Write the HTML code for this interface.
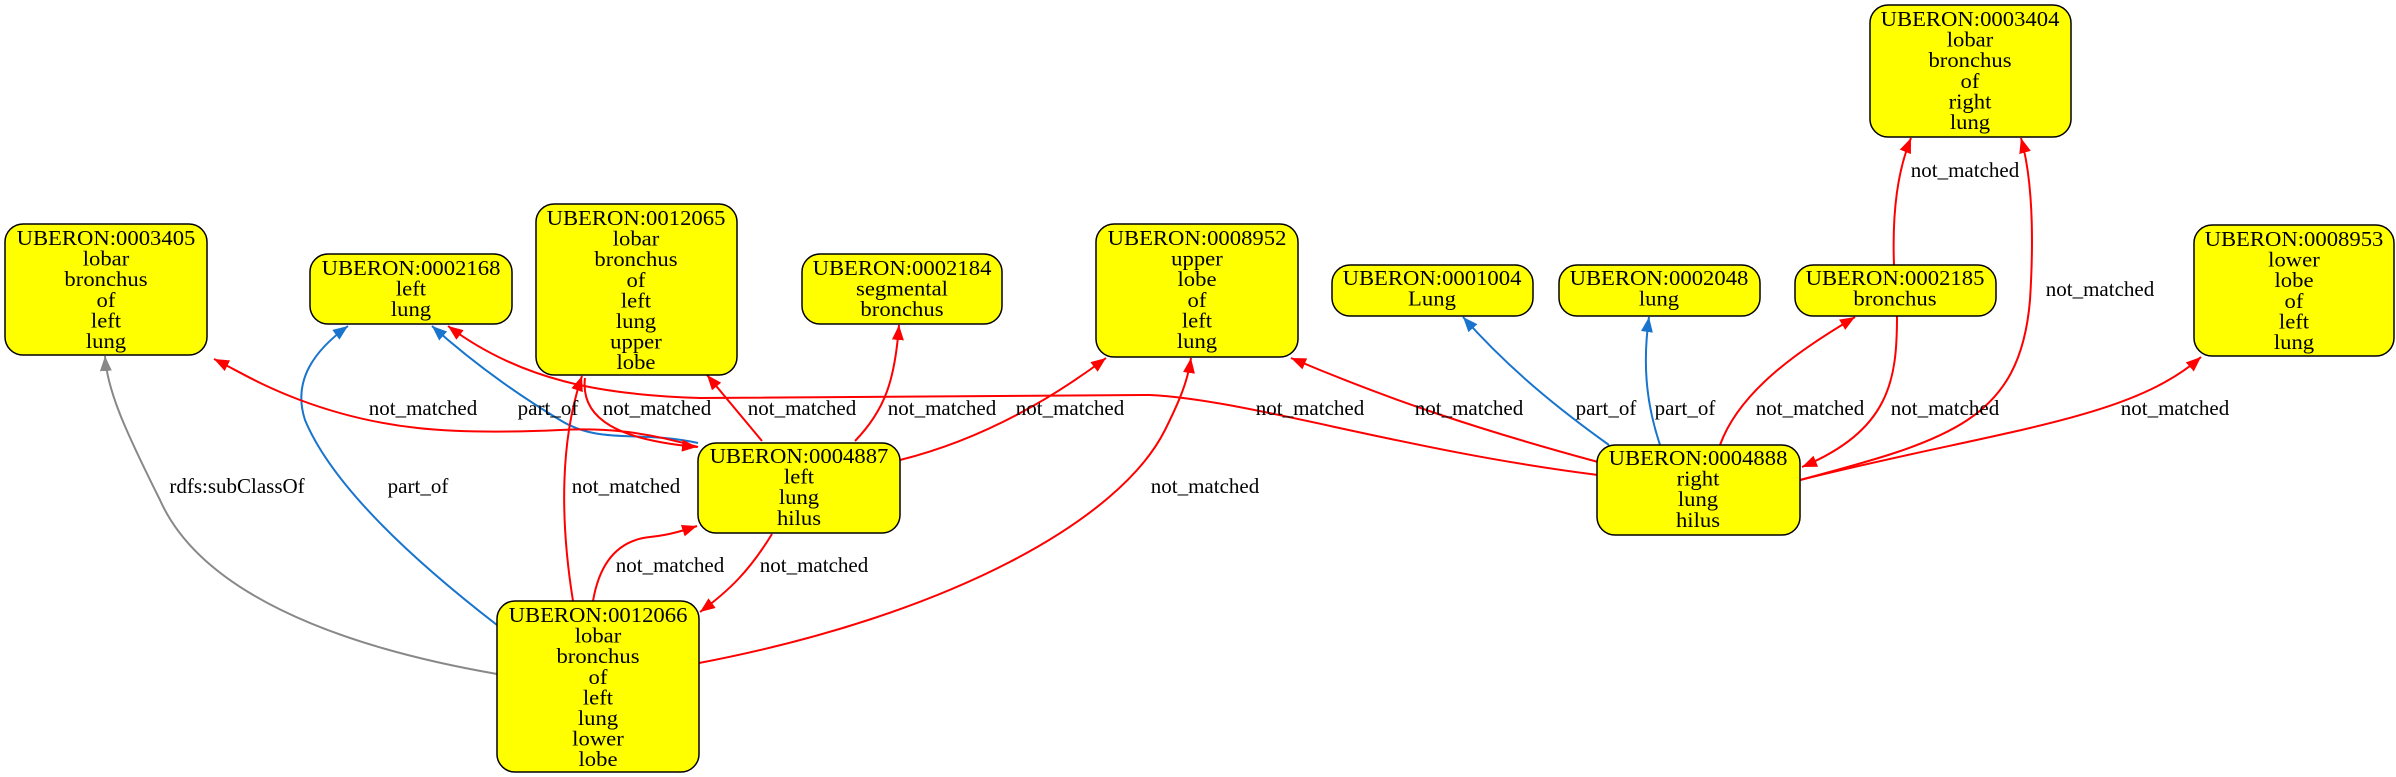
<!DOCTYPE html>
<html><head><meta charset="utf-8"><style>
html,body{margin:0;padding:0;background:#fff;}
svg{display:block;}
text{font-family:"Liberation Serif",serif;font-size:21px;fill:#000;}
</style></head><body>
<svg width="2396" height="777" viewBox="0 0 2396 777" xmlns="http://www.w3.org/2000/svg">
<defs>
<marker id="r" markerUnits="userSpaceOnUse" markerWidth="16" markerHeight="12" refX="15" refY="6" orient="auto"><path d="M0,0 L15,6 L0,12 z" fill="#ff0000"/></marker>
<marker id="b" markerUnits="userSpaceOnUse" markerWidth="16" markerHeight="12" refX="15" refY="6" orient="auto"><path d="M0,0 L15,6 L0,12 z" fill="#1874cd"/></marker>
<marker id="g" markerUnits="userSpaceOnUse" markerWidth="16" markerHeight="12" refX="15" refY="6" orient="auto"><path d="M0,0 L15,6 L0,12 z" fill="#888888"/></marker>
</defs>
<g fill="none" stroke-width="2">
<path d="M497,674 C330,645 200,590 160,500 C125,430 107,390 105,356" stroke="#888" marker-end="url(#g)"/>
<path d="M497,625 C400,550 330,480 305,420 C292,380 315,350 348,326" stroke="#1874cd" marker-end="url(#b)"/>
<path d="M698,443 C640,430 600,445 560,420 C510,390 470,360 432,326" stroke="#1874cd" marker-end="url(#b)"/>
<path d="M1609,445 C1560,410 1510,370 1463,317" stroke="#1874cd" marker-end="url(#b)"/>
<path d="M1660,445 C1645,400 1643,360 1649,317" stroke="#1874cd" marker-end="url(#b)"/>
<path d="M1598,475 C1400,450 1250,400 1150,395 L700,398 C600,395 520,380 448,326" stroke="#f00" marker-end="url(#r)"/>
<path d="M698,447 C640,430 600,428 560,430 C450,435 380,430 300,400 C260,385 240,372 214,359" stroke="#f00" marker-end="url(#r)"/>
<path d="M585,378 C580,420 620,440 697,447" stroke="#f00" marker-end="url(#r)"/>
<path d="M573,601 C560,520 560,440 582,376" stroke="#f00" marker-end="url(#r)"/>
<path d="M762,441 L707,375" stroke="#f00" marker-end="url(#r)"/>
<path d="M855,441 C885,410 895,380 899,325" stroke="#f00" marker-end="url(#r)"/>
<path d="M900,460 C980,440 1050,400 1106,358" stroke="#f00" marker-end="url(#r)"/>
<path d="M593,601 C600,560 620,540 650,537 C670,535 685,530 697,526" stroke="#f00" marker-end="url(#r)"/>
<path d="M772,534 C750,570 730,590 700,612" stroke="#f00" marker-end="url(#r)"/>
<path d="M699,663 C950,615 1120,520 1165,430 C1180,400 1188,380 1191,358" stroke="#f00" marker-end="url(#r)"/>
<path d="M1598,462 C1480,430 1390,400 1291,358" stroke="#f00" marker-end="url(#r)"/>
<path d="M1720,445 C1740,390 1800,350 1855,317" stroke="#f00" marker-end="url(#r)"/>
<path d="M1897,316 C1897,380 1890,430 1802,467" stroke="#f00" marker-end="url(#r)"/>
<path d="M1894,265 C1892,210 1898,170 1911,138" stroke="#f00" marker-end="url(#r)"/>
<path d="M1800,480 C1950,440 2020,420 2030,300 C2035,220 2030,170 2021,138" stroke="#f00" marker-end="url(#r)"/>
<path d="M1800,480 C2000,430 2130,420 2201,357" stroke="#f00" marker-end="url(#r)"/>
</g>
<g fill="#ffff00" stroke="#000" stroke-width="1.5">
<rect x="5" y="224" width="202" height="131" rx="18"/>
<rect x="310" y="254" width="202" height="70" rx="18"/>
<rect x="536" y="204" width="201" height="171" rx="18"/>
<rect x="802" y="254" width="200" height="70" rx="18"/>
<rect x="1096" y="224" width="202" height="133" rx="18"/>
<rect x="1332" y="265" width="201" height="51" rx="18"/>
<rect x="1559" y="265" width="201" height="51" rx="18"/>
<rect x="1795" y="265" width="201" height="51" rx="18"/>
<rect x="1870" y="5" width="201" height="132" rx="18"/>
<rect x="2194" y="225" width="200" height="131" rx="18"/>
<rect x="698" y="443" width="202" height="90" rx="18"/>
<rect x="1597" y="445" width="203" height="90" rx="18"/>
<rect x="497" y="601" width="202" height="171" rx="18"/>
</g>
<g text-anchor="middle">
<g transform="translate(106,0) scale(1.08,1) translate(-106,0)"><text x="106" y="245">UBERON:0003405<tspan x="106" dy="20.6">lobar</tspan><tspan x="106" dy="20.6">bronchus</tspan><tspan x="106" dy="20.6">of</tspan><tspan x="106" dy="20.6">left</tspan><tspan x="106" dy="20.6">lung</tspan></text></g>
<g transform="translate(411,0) scale(1.08,1) translate(-411,0)"><text x="411" y="275">UBERON:0002168<tspan x="411" dy="20.6">left</tspan><tspan x="411" dy="20.6">lung</tspan></text></g>
<g transform="translate(636,0) scale(1.08,1) translate(-636,0)"><text x="636" y="225">UBERON:0012065<tspan x="636" dy="20.6">lobar</tspan><tspan x="636" dy="20.6">bronchus</tspan><tspan x="636" dy="20.6">of</tspan><tspan x="636" dy="20.6">left</tspan><tspan x="636" dy="20.6">lung</tspan><tspan x="636" dy="20.6">upper</tspan><tspan x="636" dy="20.6">lobe</tspan></text></g>
<g transform="translate(902,0) scale(1.08,1) translate(-902,0)"><text x="902" y="275">UBERON:0002184<tspan x="902" dy="20.6">segmental</tspan><tspan x="902" dy="20.6">bronchus</tspan></text></g>
<g transform="translate(1197,0) scale(1.08,1) translate(-1197,0)"><text x="1197" y="245">UBERON:0008952<tspan x="1197" dy="20.6">upper</tspan><tspan x="1197" dy="20.6">lobe</tspan><tspan x="1197" dy="20.6">of</tspan><tspan x="1197" dy="20.6">left</tspan><tspan x="1197" dy="20.6">lung</tspan></text></g>
<g transform="translate(1432,0) scale(1.08,1) translate(-1432,0)"><text x="1432" y="285">UBERON:0001004<tspan x="1432" dy="20.6">Lung</tspan></text></g>
<g transform="translate(1659,0) scale(1.08,1) translate(-1659,0)"><text x="1659" y="285">UBERON:0002048<tspan x="1659" dy="20.6">lung</tspan></text></g>
<g transform="translate(1895,0) scale(1.08,1) translate(-1895,0)"><text x="1895" y="285">UBERON:0002185<tspan x="1895" dy="20.6">bronchus</tspan></text></g>
<g transform="translate(1970,0) scale(1.08,1) translate(-1970,0)"><text x="1970" y="26">UBERON:0003404<tspan x="1970" dy="20.6">lobar</tspan><tspan x="1970" dy="20.6">bronchus</tspan><tspan x="1970" dy="20.6">of</tspan><tspan x="1970" dy="20.6">right</tspan><tspan x="1970" dy="20.6">lung</tspan></text></g>
<g transform="translate(2294,0) scale(1.08,1) translate(-2294,0)"><text x="2294" y="246">UBERON:0008953<tspan x="2294" dy="20.6">lower</tspan><tspan x="2294" dy="20.6">lobe</tspan><tspan x="2294" dy="20.6">of</tspan><tspan x="2294" dy="20.6">left</tspan><tspan x="2294" dy="20.6">lung</tspan></text></g>
<g transform="translate(799,0) scale(1.08,1) translate(-799,0)"><text x="799" y="463">UBERON:0004887<tspan x="799" dy="20.6">left</tspan><tspan x="799" dy="20.6">lung</tspan><tspan x="799" dy="20.6">hilus</tspan></text></g>
<g transform="translate(1698,0) scale(1.08,1) translate(-1698,0)"><text x="1698" y="465">UBERON:0004888<tspan x="1698" dy="20.6">right</tspan><tspan x="1698" dy="20.6">lung</tspan><tspan x="1698" dy="20.6">hilus</tspan></text></g>
<g transform="translate(598,0) scale(1.08,1) translate(-598,0)"><text x="598" y="622">UBERON:0012066<tspan x="598" dy="20.6">lobar</tspan><tspan x="598" dy="20.6">bronchus</tspan><tspan x="598" dy="20.6">of</tspan><tspan x="598" dy="20.6">left</tspan><tspan x="598" dy="20.6">lung</tspan><tspan x="598" dy="20.6">lower</tspan><tspan x="598" dy="20.6">lobe</tspan></text></g>
<text x="423" y="415">not_matched</text>
<text x="548" y="415">part_of</text>
<text x="657" y="415">not_matched</text>
<text x="802" y="415">not_matched</text>
<text x="942" y="415">not_matched</text>
<text x="1070" y="415">not_matched</text>
<text x="1310" y="415">not_matched</text>
<text x="1469" y="415">not_matched</text>
<text x="1606" y="415">part_of</text>
<text x="1685" y="415">part_of</text>
<text x="1810" y="415">not_matched</text>
<text x="1945" y="415">not_matched</text>
<text x="2175" y="415">not_matched</text>
<text x="1965" y="177">not_matched</text>
<text x="2100" y="296">not_matched</text>
<text x="237" y="493">rdfs:subClassOf</text>
<text x="418" y="493">part_of</text>
<text x="626" y="493">not_matched</text>
<text x="1205" y="493">not_matched</text>
<text x="670" y="572">not_matched</text>
<text x="814" y="572">not_matched</text>
</g>
</svg>
</body></html>
